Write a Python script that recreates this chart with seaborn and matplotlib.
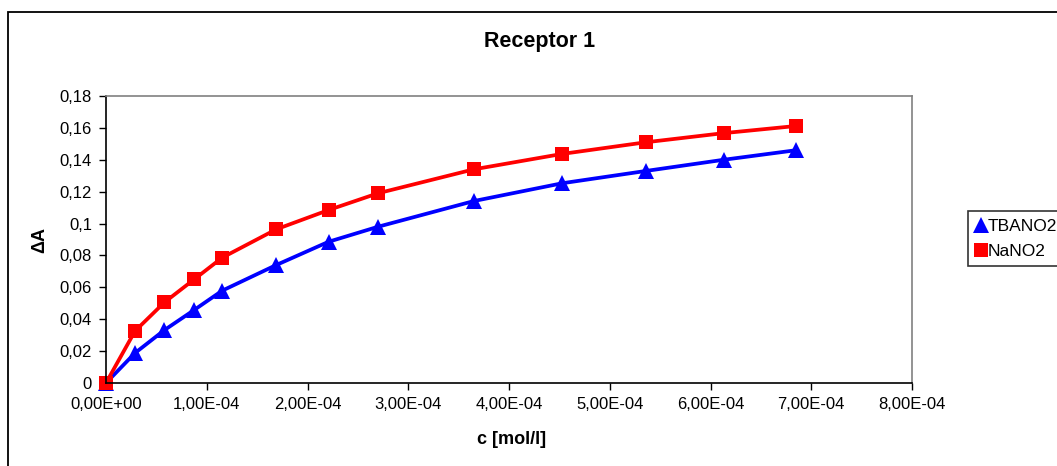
import numpy as np
import pandas as pd
import matplotlib
matplotlib.use("Agg")
import matplotlib.pyplot as plt
from matplotlib.lines import Line2D
from matplotlib.patches import Rectangle
from matplotlib.ticker import FuncFormatter, MultipleLocator
import seaborn as sns

# ---- data ----
conc = [0.0, 0.288e-4, 0.58e-4, 0.875e-4, 1.153e-4, 1.69e-4, 2.21e-4,
        2.70e-4, 3.65e-4, 4.53e-4, 5.36e-4, 6.13e-4, 6.85e-4]
tbano2 = [0.0, 0.0188, 0.0332, 0.0458, 0.0579, 0.0740, 0.0886,
          0.0980, 0.1141, 0.1253, 0.1330, 0.1400, 0.1460]
nano2 = [0.0, 0.0326, 0.0506, 0.0650, 0.0786, 0.0964, 0.1085,
         0.1190, 0.1340, 0.1437, 0.1510, 0.1567, 0.1612]
series_names = ["TBANO2", "NaNO2"]
colors = {"TBANO2": "#0000FF", "NaNO2": "#FF0000"}
markers = {"TBANO2": "^", "NaNO2": "s"}
title = "Receptor 1"
xlabel = "c [mol/l]"
ylabel = "\u0394A"

df = pd.concat([
    pd.DataFrame({"c": conc, "dA": tbano2, "series": "TBANO2"}),
    pd.DataFrame({"c": conc, "dA": nano2, "series": "NaNO2"}),
], ignore_index=True)

sns.set_style("white")
plt.rcParams["font.family"] = ["Liberation Sans", "DejaVu Sans"]
plt.rcParams["text.color"] = "black"
plt.rcParams["axes.labelcolor"] = "black"

W, H = 1057, 466
fig = plt.figure(figsize=(W / 100, H / 100), dpi=100)
ax = fig.add_axes([106 / W, 1 - 383 / H, (912 - 106) / W, (383 - 96) / H])

msize = {"TBANO2": 11.5, "NaNO2": 10}
for name in series_names:
    sub = df[df["series"] == name]
    sns.lineplot(data=sub, x="c", y="dA", ax=ax, color=colors[name],
                 marker=markers[name], markersize=msize[name],
                 markeredgewidth=0, linewidth=2.7, clip_on=False,
                 legend=False, sort=False)

ax.set_xlim(0, 8e-4)
ax.set_ylim(0, 0.18)
ax.xaxis.set_major_locator(MultipleLocator(1e-4))
ax.yaxis.set_major_locator(MultipleLocator(0.02))


def xfmt(v, pos):
    s = "%.2E" % v
    return s.replace(".", ",")


def yfmt(v, pos):
    s = ("%.2f" % v).rstrip("0").rstrip(".")
    if s == "":
        s = "0"
    return s.replace(".", ",")


ax.xaxis.set_major_formatter(FuncFormatter(xfmt))
ax.yaxis.set_major_formatter(FuncFormatter(yfmt))
ax.tick_params(axis="both", direction="out", length=5, width=1,
               color="black", labelsize=12, labelcolor="black",
               bottom=True, left=True, pad=5)
ax.set_xlabel("")
ax.set_ylabel("")

for side in ["left", "bottom"]:
    ax.spines[side].set_color("black")
    ax.spines[side].set_linewidth(1.2)
for side in ["top", "right"]:
    ax.spines[side].set_color("#808080")
    ax.spines[side].set_linewidth(1.2)
ax.grid(False)

fig.text(540 / W, 1 - 42 / H, title, ha="center", va="center",
         fontsize=15.5, fontweight="bold", color="black")
fig.text(512 / W, 1 - 440 / H, xlabel, ha="center", va="center",
         fontsize=13, fontweight="bold", color="black")
fig.text(40 / W, 1 - 240 / H, ylabel, ha="center", va="center",
         fontsize=13, fontweight="bold", rotation=90, color="black")

# outer chart border
fig.patches.append(Rectangle((7.5 / W, -0.1), 1.2, 1 - 12 / H + 0.1,
                             transform=fig.transFigure, fill=False,
                             edgecolor="black", linewidth=1.3,
                             clip_on=False))

handles = [Line2D([], [], linestyle="none", marker=markers[n],
                  color=colors[n], markersize=msize[n] * 0.95,
                  markeredgewidth=0) for n in series_names]
leg = fig.legend(handles, series_names, loc="upper left",
                 bbox_to_anchor=(968 / W, 1 - 211 / H),
                 bbox_transform=fig.transFigure, frameon=True,
                 fancybox=False, edgecolor="black", fontsize=12.5,
                 handlelength=0.6, handletextpad=0.1,
                 borderpad=0.45, labelspacing=0.55, borderaxespad=0)
leg.get_frame().set_linewidth(1.2)
for t in leg.get_texts():
    t.set_color("black")

fig.savefig("out.png", dpi=100)
